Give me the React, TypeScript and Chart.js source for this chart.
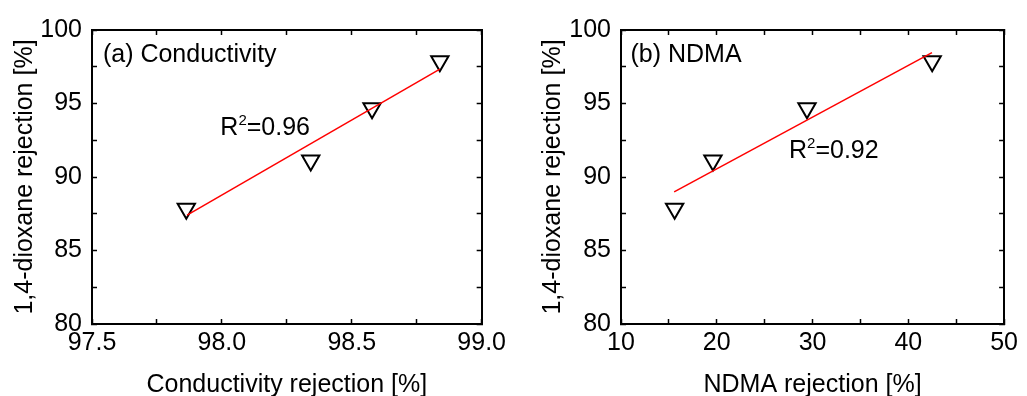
import React, { useEffect, useRef } from 'react';
import { Chart, registerables } from 'chart.js';

Chart.register(...registerables);

// ---- data ----
const dioxaneRejection = [87.84, 91.13, 94.67, 97.88];
const conductivityRejection = [97.863, 98.342, 98.578, 98.839];
const ndmaRejection = [15.6, 19.6, 29.42, 42.49];

const condFitX = [97.866, 98.839];
const condFitY = [87.41, 97.34];
const ndmaFitX = [15.55, 42.47];
const ndmaFitY = [88.99, 98.46];

const condXMajor = [97.5, 98.0, 98.5, 99.0];
const condXLabels = ['97.5', '98.0', '98.5', '99.0'];
const ndmaXMajor = [10, 20, 30, 40, 50];
const ndmaXLabels = ['10', '20', '30', '40', '50'];
const yMajor = [80, 85, 90, 95, 100];
const yLabels = ['80', '85', '90', '95', '100'];

const FONT = "'Liberation Sans', Arial, sans-serif";

type PanelSpec = {
  xs: number[];
  fitX: number[];
  fitY: number[];
  xMin: number;
  xMax: number;
  xStep: number;
  xMajor: number[];
  xLabels: string[];
  xTitle: string;
  leftWidth: number;
  rightWidth: number;
  panelLabel: string;
  panelPos: [number, number];
  r2Value: string;
  r2Pos: [number, number];
};

function labelFor(v: number, major: number[], labels: string[]) {
  const i = major.findIndex((m) => Math.abs(m - v) < 1e-6);
  return i >= 0 ? labels[i] : '';
}

function axisCommon() {
  return {
    grid: {
      drawOnChartArea: false,
      drawTicks: true,
      tickLength: -5,
      tickWidth: 1.5,
      tickColor: '#000',
    },
    border: { display: true, color: '#000', width: 2 },
  };
}

function buildChart(canvas: HTMLCanvasElement, p: PanelSpec) {
  const annot = {
    id: 'annot',
    afterDatasetsDraw(chart: any) {
      const { ctx, scales } = chart;
      const sx = scales.x;
      const sy = scales.y;
      ctx.save();
      ctx.fillStyle = '#000';
      ctx.textBaseline = 'alphabetic';
      ctx.textAlign = 'left';
      // panel label
      ctx.font = `25px ${FONT}`;
      ctx.fillText(p.panelLabel, sx.getPixelForValue(p.panelPos[0]), sy.getPixelForValue(p.panelPos[1]));
      // R^2 label
      let x = sx.getPixelForValue(p.r2Pos[0]);
      const y = sy.getPixelForValue(p.r2Pos[1]);
      ctx.font = `25px ${FONT}`;
      ctx.fillText('R', x, y);
      x += ctx.measureText('R').width;
      ctx.font = `15px ${FONT}`;
      ctx.fillText('2', x, y - 10);
      x += ctx.measureText('2').width;
      ctx.font = `25px ${FONT}`;
      ctx.fillText('=' + p.r2Value, x, y);
      ctx.restore();
    },
  };

  const tickFont = { family: FONT, size: 25 };

  return new Chart(canvas, {
    type: 'scatter',
    data: {
      datasets: [
        {
          type: 'line',
          data: p.fitX.map((v, i) => ({ x: v, y: p.fitY[i] })),
          borderColor: '#ff0000',
          borderWidth: 1.5,
          pointRadius: 0,
          showLine: true,
          fill: false,
          order: 0,
        } as any,
        {
          data: p.xs.map((v, i) => ({ x: v, y: dioxaneRejection[i] })),
          pointStyle: 'triangle',
          pointRotation: 180,
          pointRadius: 10,
          pointHoverRadius: 10,
          pointBorderWidth: 2,
          borderColor: '#000',
          backgroundColor: 'rgba(0,0,0,0)',
          pointBackgroundColor: 'rgba(0,0,0,0)',
          pointBorderColor: '#000',
          order: 1,
        } as any,
      ],
    },
    options: {
      responsive: false,
      animation: false,
      events: [],
      layout: { padding: 0 },
      plugins: { legend: { display: false }, tooltip: { enabled: false } },
      scales: {
        x: {
          type: 'linear',
          position: 'bottom',
          min: p.xMin,
          max: p.xMax,
          ...axisCommon(),
          ticks: {
            stepSize: p.xStep,
            autoSkip: false,
            maxRotation: 0,
            maxTicksLimit: 30,
            padding: 9,
            color: '#000',
            font: tickFont,
            callback: (v: any) => labelFor(Number(v), p.xMajor, p.xLabels),
          },
          title: {
            display: true,
            text: p.xTitle,
            color: '#000',
            font: { family: FONT, size: 25 },
            padding: { top: 0, bottom: 0 },
          },
          afterFit: (s: any) => {
            s.height = 76;
          },
        },
        x2: {
          type: 'linear',
          position: 'top',
          min: p.xMin,
          max: p.xMax,
          ...axisCommon(),
          ticks: { display: false, stepSize: p.xStep, maxTicksLimit: 30, autoSkip: false },
          afterFit: (s: any) => {
            s.height = 29;
          },
        },
        y: {
          type: 'linear',
          position: 'left',
          min: 80,
          max: 100,
          ...axisCommon(),
          ticks: {
            stepSize: 2.5,
            autoSkip: false,
            maxTicksLimit: 30,
            padding: 15,
            color: '#000',
            font: tickFont,
            callback: (v: any) => labelFor(Number(v), yMajor, yLabels),
          },
          title: {
            display: true,
            text: '1,4-dioxane rejection [%]',
            color: '#000',
            font: { family: FONT, size: 25 },
            padding: { top: 10, bottom: 0 },
          },
          afterFit: (s: any) => {
            s.width = p.leftWidth;
          },
        },
        y2: {
          type: 'linear',
          position: 'right',
          min: 80,
          max: 100,
          ...axisCommon(),
          ticks: { display: false, stepSize: 2.5, maxTicksLimit: 30, autoSkip: false },
          afterFit: (s: any) => {
            s.width = p.rightWidth;
          },
        },
      },
    } as any,
    plugins: [annot],
  });
}

export default function App() {
  const leftRef = useRef<HTMLCanvasElement | null>(null);
  const rightRef = useRef<HTMLCanvasElement | null>(null);

  useEffect(() => {
    const charts: Chart[] = [];
    if (leftRef.current) {
      charts.push(
        buildChart(leftRef.current, {
          xs: conductivityRejection,
          fitX: condFitX,
          fitY: condFitY,
          xMin: 97.5,
          xMax: 99.0,
          xStep: 0.25,
          xMajor: condXMajor,
          xLabels: condXLabels,
          xTitle: 'Conductivity rejection [%]',
          leftWidth: 92,
          rightWidth: 32,
          panelLabel: '(a) Conductivity',
          panelPos: [97.542, 97.79],
          r2Value: '0.96',
          r2Pos: [97.994, 92.87],
        })
      );
    }
    if (rightRef.current) {
      charts.push(
        buildChart(rightRef.current, {
          xs: ndmaRejection,
          fitX: ndmaFitX,
          fitY: ndmaFitY,
          xMin: 10,
          xMax: 50,
          xStep: 5,
          xMajor: ndmaXMajor,
          xLabels: ndmaXLabels,
          xTitle: 'NDMA rejection [%]',
          leftWidth: 93,
          rightWidth: 15,
          panelLabel: '(b) NDMA',
          panelPos: [10.99, 97.79],
          r2Value: '0.92',
          r2Pos: [27.54, 91.32],
        })
      );
    }
    return () => {
      charts.forEach((c) => c.destroy());
    };
  }, []);

  return (
    <div
      style={{
        position: 'fixed',
        left: 0,
        top: 0,
        width: 1027,
        height: 396,
        overflow: 'hidden',
        background: '#fff',
      }}
    >
      <canvas
        ref={leftRef}
        width={515}
        height={400}
        style={{ position: 'absolute', left: 0, top: 0, width: 515, height: 400 }}
      />
      <canvas
        ref={rightRef}
        width={499}
        height={400}
        style={{ position: 'absolute', left: 528, top: 0, width: 499, height: 400 }}
      />
    </div>
  );
}
